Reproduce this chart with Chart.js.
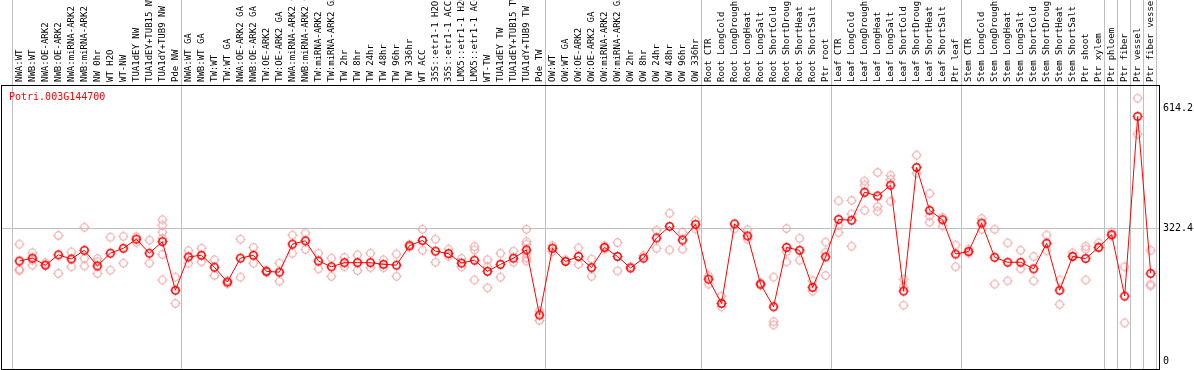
<!DOCTYPE html>
<html lang="en">
<head>
<meta charset="UTF-8">
<title>Potri.003G144700</title>
<script src="https://cdn.jsdelivr.net/npm/chart.js"></script>
<style>
  html, body { margin: 0; padding: 0; background: #fff; }
</style>
</head>
<body>
<canvas id="grafico" width="1194" height="370"></canvas>

<script>
// gene shown in the corner
const geneName = 'Potri.003G144700';

// sample names, left to right
const categories = [
  'NWA:WT', 'NWB:WT', 'NWA:OE-ARK2', 'NWB:OE-ARK2', 'NWA:miRNA-ARK2', 'NWB:miRNA-ARK2',
  'NW 0hr', 'WT H2O', 'WT-NW', 'TUA1dEY NW', 'TUA1dEY+TUB15 NW', 'TUA1dY+TUB9 NW', 'Pde NW',
  'NWA:WT GA', 'NWB:WT GA', 'TW:WT', 'TW:WT GA', 'NWA:OE-ARK2 GA', 'NWB:OE-ARK2 GA',
  'TW:OE-ARK2', 'TW:OE-ARK2 GA', 'NWA:miRNA-ARK2 GA', 'NWB:miRNA-ARK2 GA', 'TW:miRNA-ARK2',
  'TW:miRNA-ARK2 GA', 'TW 2hr', 'TW 8hr', 'TW 24hr', 'TW 48hr', 'TW 96hr', 'TW 336hr',
  'WT ACC', '35S::etr1-1 H2O', '35S::etr1-1 ACC', 'LMX5::etr1-1 H2O', 'LMX5::etr1-1 ACC',
  'WT-TW', 'TUA1dEY TW', 'TUA1dEY+TUB15 TW', 'TUA1dY+TUB9 TW', 'Pde TW',
  'OW:WT', 'OW:WT GA', 'OW:OE-ARK2', 'OW:OE-ARK2 GA', 'OW:miRNA-ARK2', 'OW:miRNA-ARK2 GA',
  'OW 2hr', 'OW 8hr', 'OW 24hr', 'OW 48hr', 'OW 96hr', 'OW 336hr',
  'Root CTR', 'Root LongCold', 'Root LongDrought', 'Root LongHeat', 'Root LongSalt',
  'Root ShortCold', 'Root ShortDrought', 'Root ShortHeat', 'Root ShortSalt', 'Ptr root',
  'Leaf CTR', 'Leaf LongCold', 'Leaf LongDrought', 'Leaf LongHeat', 'Leaf LongSalt',
  'Leaf ShortCold', 'Leaf ShortDrought', 'Leaf ShortHeat', 'Leaf ShortSalt', 'Ptr leaf',
  'Stem CTR', 'Stem LongCold', 'Stem LongDrought', 'Stem LongHeat', 'Stem LongSalt',
  'Stem ShortCold', 'Stem ShortDrought', 'Stem ShortHeat', 'Stem ShortSalt', 'Ptr shoot',
  'Ptr xylem', 'Ptr phloem', 'Ptr fiber', 'Ptr vessel', 'Ptr fiber vessel'
];

// mean expression per sample (red line)
const meanValues = [
  243, 250, 233, 258, 248, 269, 231, 262, 274, 296,
  262, 290, 172, 253, 257, 228, 192, 250, 257, 218,
  216, 284, 292, 243, 229, 239, 239, 239, 235, 233,
  280, 293, 267, 261, 238, 245, 218, 235, 250, 270,
  112, 274, 242, 254, 227, 276, 254, 226, 250, 299,
  327, 294, 332, 199, 140, 333, 304, 187, 132, 276,
  269, 179, 253, 344, 342, 410, 401, 427, 170, 470,
  366, 343, 260, 266, 335, 252, 240, 240, 224, 286,
  172, 254, 249, 276, 307, 158, 594, 213
];

// single replicates per sample (pale circles)
const replicates = [
  [284, 223, 220], [263, 233, 245], [239, 233], [305, 213], [265, 229],
  [325, 249, 231], [249, 241, 213], [301, 221], [303, 238], [302, 288],
  [294, 238], [343, 330, 313, 298, 259, 197], [204, 140], [268, 238], [274, 241],
  [246, 208], [195, 188], [296, 204], [276, 238], [220, 215],
  [238, 194], [306, 262], [311, 271], [262, 224], [250, 206],
  [252, 229], [258, 220], [262, 227], [246, 227], [260, 206],
  [283, 277], [320, 269], [296, 240], [272, 255], [249, 229],
  [278, 270, 197], [246, 229, 178], [262, 204], [267, 240], [320, 290, 284, 262, 251, 243],
  [122, 99], [280, 266], [246], [275, 235], [248, 206],
  [272, 280], [288, 219], [229], [256], [318, 274],
  [359, 270], [313, 272], [341, 321], [207, 187], [158, 132],
  [321], [319, 296], [190, 184], [204, 96, 88], [322, 266, 241],
  [298, 245], [195, 170], [289, 264, 208], [389, 330, 312], [390, 357, 279],
  [437, 427, 366], [458, 375, 364], [451, 441, 388], [199, 180, 136], [500, 456],
  [407, 352, 337], [349, 328], [282, 229], [272, 262], [346, 320],
  [320, 187], [287, 195], [269, 224], [254, 195], [306, 268],
  [197, 138], [263, 255], [279, 272, 197], [287, 277], [313, 304],
  [229, 93], [638, 551], [269, 187, 183]
];

// last sample index of each block (gray separators)
const groupEnds = [-1, 12, 40, 52, 62, 72, 83, 84, 85, 86, 87];

// values written on the right axis
const yTicks = [0, 322.4, 614.2];

const fonte = '"DejaVu Sans Mono", "Liberation Mono", monospace';

// circle with four short ticks, like the original markers
function criarMarcador(cor, largura) {
  const c = document.createElement('canvas');
  c.width = 13;
  c.height = 13;
  const g = c.getContext('2d');
  g.strokeStyle = cor;
  g.lineWidth = largura;
  g.beginPath();
  g.arc(6.5, 6.5, 3.7, 0, Math.PI * 2);
  g.stroke();
  g.lineWidth = 1;
  g.beginPath();
  g.moveTo(6.5, 1.5); g.lineTo(6.5, 3);
  g.moveTo(6.5, 10); g.lineTo(6.5, 11.5);
  g.moveTo(1.5, 6.5); g.lineTo(3, 6.5);
  g.moveTo(10, 6.5); g.lineTo(11.5, 6.5);
  g.stroke();
  return c;
}

const marcadorMedia = criarMarcador('#ff0000', 1.6);
const marcadorRep = criarMarcador('#f0a0a0', 1.1);

const pontosMedia = meanValues.map((v, i) => ({ x: i, y: v }));
const pontosRep = [];
for (let i = 0; i < replicates.length; i++) {
  for (let j = 0; j < replicates[i].length; j++) {
    pontosRep.push({ x: i, y: replicates[i][j] });
  }
}

// separators + sample names + frame + gene name
const desenhoExtra = {
  id: 'desenhoExtra',
  beforeDatasetsDraw(chart) {
    const ctx = chart.ctx;
    const x = chart.scales.x;
    ctx.save();
    ctx.strokeStyle = '#c0c0c0';
    ctx.lineWidth = 1;
    groupEnds.forEach(function (g) {
      const px = Math.round(x.getPixelForValue(g + 0.42)) + 0.5;
      ctx.beginPath();
      ctx.moveTo(px, 0);
      ctx.lineTo(px, chart.height);
      ctx.stroke();
    });
    ctx.restore();
  },
  afterDraw(chart) {
    const ctx = chart.ctx;
    const area = chart.chartArea;
    const x = chart.scales.x;
    ctx.save();

    // rotated sample names above the plot
    ctx.fillStyle = '#000';
    ctx.font = '9px ' + fonte;
    ctx.textAlign = 'left';
    ctx.textBaseline = 'middle';
    categories.forEach(function (nome, i) {
      ctx.save();
      ctx.translate(x.getPixelForValue(i), 82);
      ctx.rotate(-Math.PI / 2);
      ctx.fillText(nome, 0, 0);
      ctx.restore();
    });

    // black frame
    ctx.strokeStyle = '#000';
    ctx.lineWidth = 1;
    ctx.strokeRect(area.left + 0.5, area.top - 0.5, area.right - area.left, area.bottom - area.top + 1);

    // gene name
    ctx.fillStyle = '#ff0000';
    ctx.font = '10px ' + fonte;
    ctx.textBaseline = 'middle';
    ctx.fillText(geneName, 9, 97);
    ctx.restore();
  }
};

const ctx = document.getElementById('grafico').getContext('2d');

new Chart(ctx, {
  type: 'line',
  data: {
    datasets: [
      {
        label: 'media',
        data: pontosMedia,
        borderColor: '#ff0000',
        borderWidth: 1,
        pointStyle: marcadorMedia,
        tension: 0
      },
      {
        label: 'replicas',
        data: pontosRep,
        showLine: false,
        pointStyle: marcadorRep
      }
    ]
  },
  options: {
    responsive: false,
    animation: false,
    devicePixelRatio: 1,
    layout: { autoPadding: false, padding: { left: 1, top: 86, right: 0, bottom: 1 } },
    plugins: {
      legend: { display: false },
      tooltip: { enabled: false }
    },
    scales: {
      x: {
        type: 'linear',
        display: false,
        min: -1.41,
        max: 87.64
      },
      y: {
        position: 'right',
        min: -18.92,
        max: 667.6,
        afterBuildTicks: function (scale) {
          scale.ticks = yTicks.map(v => ({ value: v }));
        },
        afterFit: function (scale) {
          // fixed axis width, no extra room for the tick labels
          scale.width = 35;
          scale.paddingTop = 0;
          scale.paddingBottom = 0;
        },
        border: { display: true, color: '#000' },
        grid: {
          drawTicks: false,
          color: c => (c.tick && c.tick.value === 322.4) ? '#c0c0c0' : 'rgba(0,0,0,0)'
        },
        ticks: {
          padding: 4,
          color: '#000',
          font: { family: fonte, size: 10 },
          callback: v => String(v)
        }
      }
    }
  },
  plugins: [desenhoExtra]
});
</script>
</body>
</html>
